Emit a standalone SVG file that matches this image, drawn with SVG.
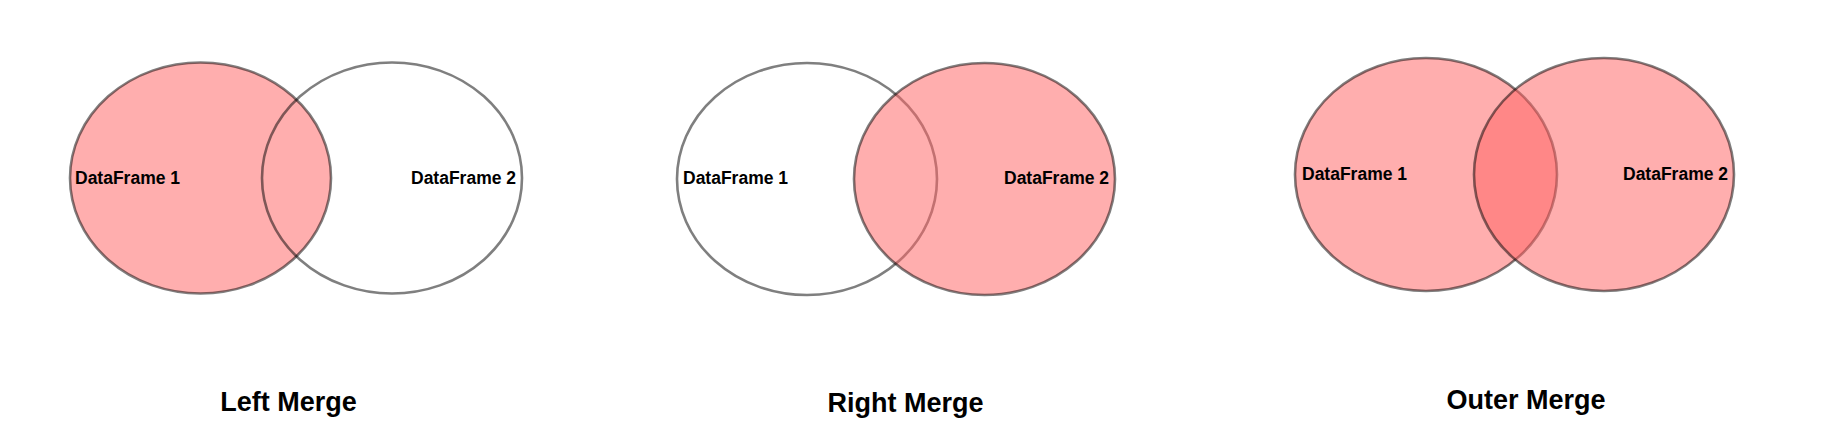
<svg xmlns="http://www.w3.org/2000/svg" width="1835" height="426" viewBox="0 0 1835 426">
<style>
.set{stroke:#000;stroke-opacity:0.5;stroke-width:2.6}
.on{fill:rgb(255,100,100);fill-opacity:0.52}
.off{fill:none}
.lbl{font-family:"Liberation Sans",Arial,sans-serif;font-weight:bold;font-size:17.5px;fill:#000}
.ttl{font-family:"Liberation Sans",Arial,sans-serif;font-weight:bold;font-size:27px;fill:#000;text-anchor:middle}
</style>
<rect width="1835" height="426" fill="#fff"/>
<g id="left-merge">
  <g id="left-df1"><ellipse class="set on" cx="200.5" cy="178" rx="130.5" ry="115.5"/></g>
  <g id="left-df2"><ellipse class="set off" cx="392" cy="178" rx="130" ry="115.5"/></g>
  <text class="lbl" x="75" y="184">DataFrame 1</text>
  <text class="lbl" x="411" y="184">DataFrame 2</text>
  <text class="ttl" x="288.5" y="411">Left Merge</text>
</g>
<g id="right-merge">
  <g id="right-df1"><ellipse class="set off" cx="807" cy="179" rx="130" ry="116"/></g>
  <g id="right-df2"><ellipse class="set on" cx="984.5" cy="179" rx="130.5" ry="116"/></g>
  <text class="lbl" x="683" y="184">DataFrame 1</text>
  <text class="lbl" x="1004" y="184">DataFrame 2</text>
  <text class="ttl" x="905.5" y="412">Right Merge</text>
</g>
<g id="outer-merge">
  <g id="outer-df1"><ellipse class="set on" cx="1426" cy="174.5" rx="131" ry="116.5"/></g>
  <g id="outer-df2"><ellipse class="set on" cx="1604" cy="174.5" rx="130" ry="116.5"/></g>
  <text class="lbl" x="1302" y="180">DataFrame 1</text>
  <text class="lbl" x="1623" y="180">DataFrame 2</text>
  <text class="ttl" x="1526" y="409">Outer Merge</text>
</g>
<g id="connectors"></g>
</svg>
